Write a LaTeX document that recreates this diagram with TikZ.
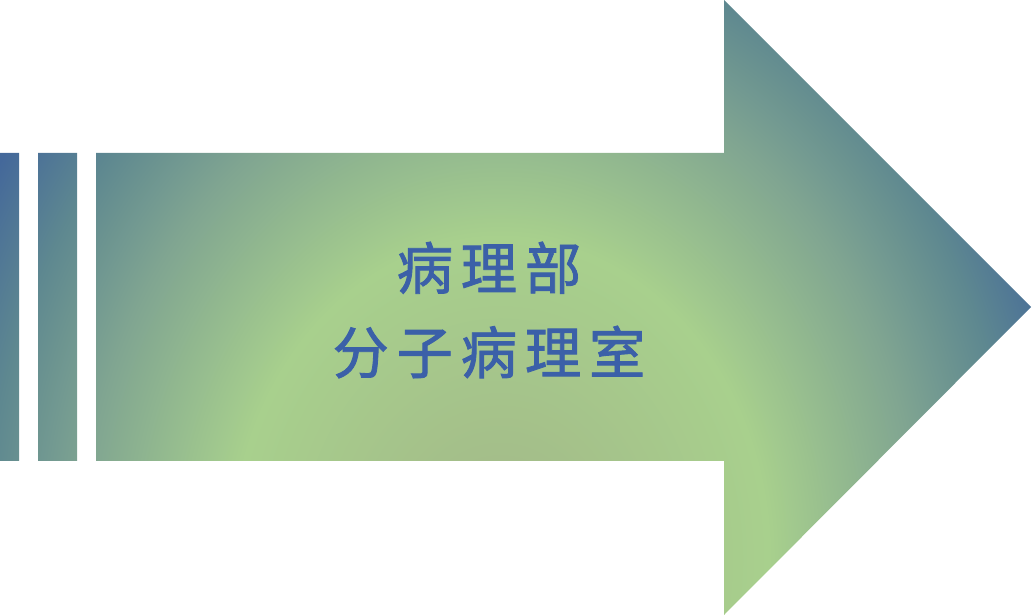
\documentclass[tikz,border=0pt]{standalone}
\usepackage{fontspec}
\usepackage{xcolor}
\newfontfamily\cjkfont[LetterSpace=14,FakeBold=1.5]{Noto Sans CJK SC}
\definecolor{glowcore}{RGB}{162,182,136}
\definecolor{glowlight}{RGB}{168,208,141}
\definecolor{glowmid}{RGB}{128,165,145}
\definecolor{glowteal}{RGB}{94,136,144}
\definecolor{glowblue}{RGB}{68,104,154}
\definecolor{labelblue}{RGB}{59,96,168}
\pgfdeclareradialshading{arrowglow}{\pgfpointorigin}{%
  color(0bp)=(glowcore); color(5.6bp)=(glowlight); color(8.75bp)=(glowmid);
  color(10.75bp)=(glowteal); color(12.5bp)=(glowblue); color(50bp)=(glowblue)}

\begin{document}
\begin{tikzpicture}[x=0.025cm, y=0.025cm]
    \useasboundingbox (0,0) rectangle (1032,615);

    % Arrow with the two bars, filled by one glow
    \begin{scope}
        \clip (96,154) -- (724,154) -- (724,0) -- (1031,308) -- (724,615)
              -- (724,462) -- (96,462) -- cycle
              (0,154) rectangle (19,462)
              (38,154) rectangle (77,462);
        \shade[shading=arrowglow] (500,55) ellipse (1200 and 1440);
    \end{scope}

    % Label
    \node[labelblue, align=center, font=\cjkfont\fontsize{40}{60}\selectfont]
        (dept) at (489,305) {病理部\\分子病理室};
\end{tikzpicture}
\end{document}
